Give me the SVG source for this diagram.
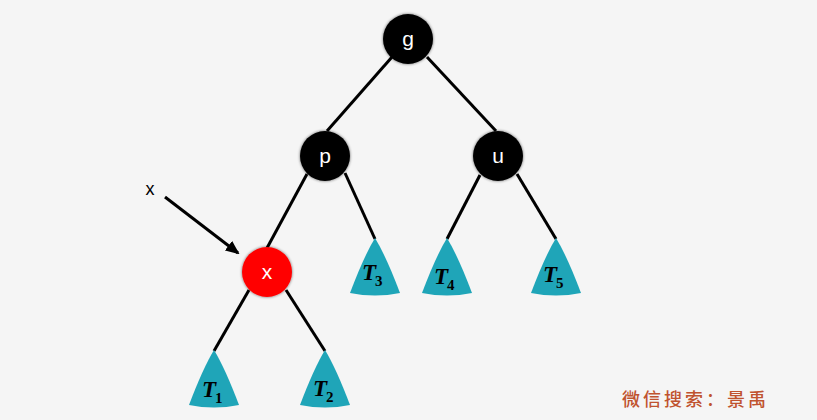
<svg xmlns="http://www.w3.org/2000/svg" width="817" height="420" viewBox="0 0 817 420">
<defs>
<filter id="sh" x="-30%" y="-30%" width="160%" height="160%"><feGaussianBlur in="SourceAlpha" stdDeviation="1.5"/><feComponentTransfer><feFuncA type="linear" slope="0.6"/></feComponentTransfer><feMerge><feMergeNode/><feMergeNode in="SourceGraphic"/></feMerge></filter>
<marker id="ah" markerWidth="14" markerHeight="12" refX="12" refY="6" orient="auto" markerUnits="userSpaceOnUse" viewBox="0 0 14 12"><path d="M0,0 L14,6 L0,12 z" fill="#000"/></marker>
<path id="tri" d="M0,0 Q-11,18 -25,55 Q0,60 25,55 Q11,18 0,0 Z"/>
</defs>
<style>
.edge{stroke:#000;stroke-width:3;fill:none}
.node{stroke:none}
.lbl{font-family:"Liberation Sans",Arial,sans-serif;font-size:21px;fill:#fff;text-anchor:middle}
.tl{font-family:"Liberation Serif","DejaVu Serif",serif;font-style:italic;font-weight:bold;font-size:23px;fill:#000}
.sub{font-family:"Liberation Serif","DejaVu Serif",serif;font-weight:bold;font-size:15px;fill:#000}
.tri{fill:#1fa5b8}
</style>
<rect width="817" height="420" fill="#f5f5f5"/>
<g id="connectors">
<line class="edge" x1="392" y1="57" x2="327" y2="131"/>
<line class="edge" x1="427" y1="57" x2="496" y2="131"/>
<line class="edge" x1="307" y1="174" x2="267" y2="248"/>
<line class="edge" x1="345" y1="173" x2="375" y2="239"/>
<line class="edge" x1="480" y1="175" x2="447" y2="239"/>
<line class="edge" x1="517" y1="174" x2="556" y2="239"/>
<line class="edge" x1="249" y1="290" x2="214" y2="351"/>
<line class="edge" x1="286" y1="290" x2="325" y2="351"/>
<line class="edge" x1="165" y1="197" x2="238" y2="253" stroke-width="4" marker-end="url(#ah)"/>
</g>
<g id="g"><circle class="node" cx="408" cy="39" r="25" fill="#000" filter="url(#sh)"/><text class="lbl" x="408" y="46">g</text></g>
<g id="p"><circle class="node" cx="325" cy="156" r="25" fill="#000" filter="url(#sh)"/><text class="lbl" x="325" y="163">p</text></g>
<g id="u"><circle class="node" cx="498" cy="156" r="25" fill="#000" filter="url(#sh)"/><text class="lbl" x="498" y="163">u</text></g>
<g id="x"><circle class="node" cx="267" cy="272" r="25" fill="#ff0000" filter="url(#sh)"/><text class="lbl" x="267" y="279">x</text></g>
<g id="xlabel"><text x="150" y="195" style="font-family:'Liberation Sans',Arial,sans-serif;font-size:18px;fill:#000" text-anchor="middle">x</text></g>
<g id="T3"><use href="#tri" class="tri" x="375" y="238"/><text class="tl" x="362" y="280">T</text><text class="sub" x="375" y="286">3</text></g>
<g id="T4"><use href="#tri" class="tri" x="447" y="238"/><text class="tl" x="434" y="284">T</text><text class="sub" x="447" y="290">4</text></g>
<g id="T5"><use href="#tri" class="tri" x="556" y="238"/><text class="tl" x="543" y="282">T</text><text class="sub" x="556" y="288">5</text></g>
<g id="T1"><use href="#tri" class="tri" x="214" y="350"/><text class="tl" x="202" y="397">T</text><text class="sub" x="215" y="403">1</text></g>
<g id="T2"><use href="#tri" class="tri" x="325" y="350"/><text class="tl" x="313" y="396">T</text><text class="sub" x="326" y="402">2</text></g>
<text x="622" y="406" style="font-family:'Noto Sans CJK SC',sans-serif;font-size:18px;font-weight:500;letter-spacing:3px;fill:#c0532f">微信搜索：景禹</text>
</svg>
